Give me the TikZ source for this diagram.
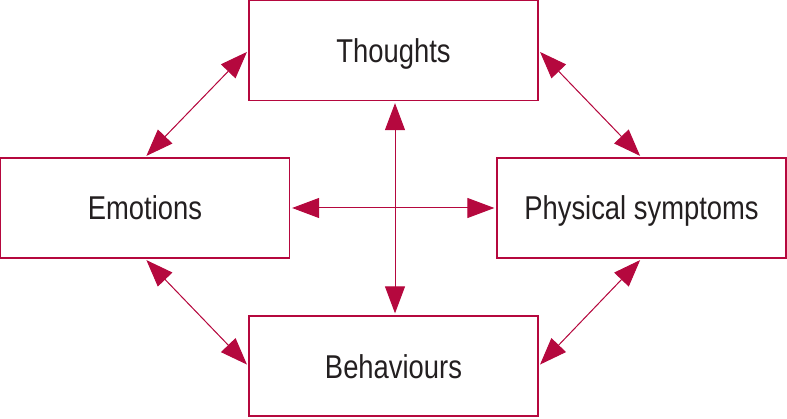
\documentclass[tikz,border=0pt]{standalone}
\usepackage{fontspec}
\setmainfont[FakeStretch=0.83]{Liberation Sans}
\usetikzlibrary{arrows.meta,positioning,calc}
\definecolor{crimsoni}{RGB}{181,8,62}
\definecolor{texti}{RGB}{35,31,32}
\tikzset{>={Triangle[length=27pt,width=20pt]},
         box/.style={
           rectangle,draw=crimsoni,line width=1.3pt,
           minimum width=289pt,minimum height=100pt,
           inner sep=0pt,text=texti,
           font=\fontsize{33pt}{36pt}\selectfont,
           text height=24pt,text depth=0pt
         },
         link/.style={<->,draw=crimsoni,fill=crimsoni,line width=1pt,
           shorten <=2pt,shorten >=2pt}
        }

\begin{document}
\begin{tikzpicture}[x=1pt,y=1pt]
  \useasboundingbox (0,0) rectangle (787,418);

  \node[box] (thoughts) at (393.5,367.5) {Thoughts};
  \node[box] (emotions) at (145,210) {Emotions};
  \node[box] (physical) at (641.5,210) {Physical symptoms};
  \node[box] (behaviours) at (393.5,52) {Behaviours};

  % outer ring
  \draw[link] (emotions.north) -- (thoughts.west);
  \draw[link] (thoughts.east) -- (physical.north);
  \draw[link] (emotions.south) -- (behaviours.west);
  \draw[link] (physical.south) -- (behaviours.east);

  % cross
  \draw[link] ([xshift=1.5pt]thoughts.south) -- ([xshift=1.5pt]behaviours.north);
  \draw[link] (emotions.east) -- (physical.west);
\end{tikzpicture}
\end{document}
